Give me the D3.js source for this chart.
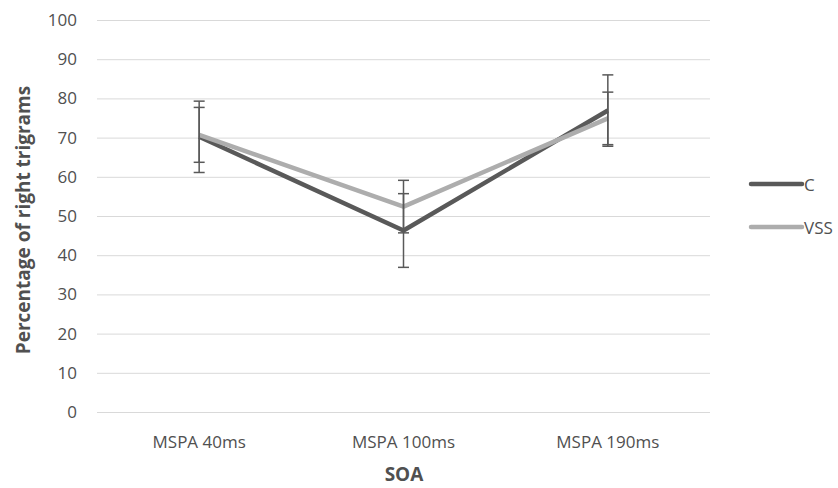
<!DOCTYPE html>
<html>
<head>
<meta charset="utf-8">
<script src="https://cdn.jsdelivr.net/npm/d3@7"></script>
<style>
  body { margin: 0; background: #fff; }
  text { font-family: "Open Sans", sans-serif; fill: #505050; }
</style>
</head>
<body>
<svg width="838" height="488"></svg>
<script>
var categories = ['MSPA 40ms', 'MSPA 100ms', 'MSPA 190ms']
var seriesNames = ['C', 'VSS']
var cValues = [70.2, 46.3, 76.9]
var cErrors = [9.1, 9.4, 9.1]
var vssValues = [70.7, 52.4, 74.9]
var vssErrors = [7.0, 6.7, 6.7]
var yTicks = [0, 10, 20, 30, 40, 50, 60, 70, 80, 90, 100]

var colors = { C: '#595959', VSS: '#adadad' }

var series = [
    { name: 'C', values: cValues, errors: cErrors },
    { name: 'VSS', values: vssValues, errors: vssErrors }
]

var svg = d3.select('svg')
var plotLeft = 97, plotRight = 710, plotTop = 20, plotBottom = 412

var x = d3.scaleBand().domain(categories).range([plotLeft, plotRight])
var y = d3.scaleLinear().domain([0, 100]).range([plotBottom, plotTop])

// grid
svg.append('g')
    .selectAll('line')
    .data(yTicks)
    .enter()
    .append('line')
    .attr('x1', plotLeft)
    .attr('x2', plotRight)
    .attr('y1', function(d){ return y(d) + 0.5 })
    .attr('y2', function(d){ return y(d) + 0.5 })
    .style('stroke', '#d9d9d9')
    .style('stroke-width', 1)

// y axis labels
var yAxis = d3.axisLeft(y).tickValues(yTicks).tickSize(0).tickPadding(20)
var gy = svg.append('g').attr('transform', 'translate(' + plotLeft + ',0)').call(yAxis)
gy.select('.domain').remove()
gy.selectAll('text').style('font-size', '17px').style('font-family', '"Open Sans", sans-serif').attr('fill', '#505050')

// x axis labels
var xAxis = d3.axisBottom(x).tickSize(0).tickPadding(24)
var gx = svg.append('g').attr('transform', 'translate(0,' + plotBottom + ')').call(xAxis)
gx.select('.domain').remove()
gx.selectAll('text').style('font-size', '17px').style('font-family', '"Open Sans", sans-serif').attr('fill', '#505050')

// axis titles
svg.append('text')
    .attr('transform', 'translate(30,220) rotate(-90)')
    .attr('text-anchor', 'middle')
    .style('font-size', '19px')
    .style('font-weight', 'bold')
    .text('Percentage of right trigrams')

svg.append('text')
    .attr('x', 404)
    .attr('y', 481)
    .attr('text-anchor', 'middle')
    .style('font-size', '19px')
    .style('font-weight', 'bold')
    .text('SOA')

var cx = function(i){ return x(categories[i]) + x.bandwidth() / 2 }

var line = d3.line()
    .x(function(d, i){ return cx(i) })
    .y(function(d){ return y(d) })

series.forEach(function(s){
    svg.append('path')
        .datum(s.values)
        .attr('d', line)
        .style('fill', 'none')
        .style('stroke', colors[s.name])
        .style('stroke-width', 4.5)
        .style('stroke-linejoin', 'round')
})

// error bars
series.forEach(function(s){
    var g = svg.append('g')
    s.values.forEach(function(v, i){
        var lo = v - s.errors[i], hi = v + s.errors[i]
        g.append('line')
            .attr('x1', cx(i)).attr('x2', cx(i))
            .attr('y1', y(lo)).attr('y2', y(hi))
            .style('stroke', '#595959').style('stroke-width', 1.5)
        ;[lo, hi].forEach(function(e){
            g.append('line')
                .attr('x1', cx(i) - 5.5).attr('x2', cx(i) + 5.5)
                .attr('y1', y(e)).attr('y2', y(e))
                .style('stroke', '#595959').style('stroke-width', 1.5)
        })
    })
})

// legend
var legend = svg.append('g')
    .selectAll('g')
    .data(seriesNames)
    .enter()
    .append('g')
    .attr('transform', function(d, i){ return 'translate(751,' + (184 + i * 43) + ')' })

legend.append('line')
    .attr('x1', 0).attr('x2', 51)
    .style('stroke', function(d){ return colors[d] })
    .style('stroke-width', 4.5)
    .style('stroke-linecap', 'round')

legend.append('text')
    .attr('x', 53)
    .attr('y', 6.5)
    .style('font-size', '17px')
    .text(function(d){ return d })
</script>
</body>
</html>
